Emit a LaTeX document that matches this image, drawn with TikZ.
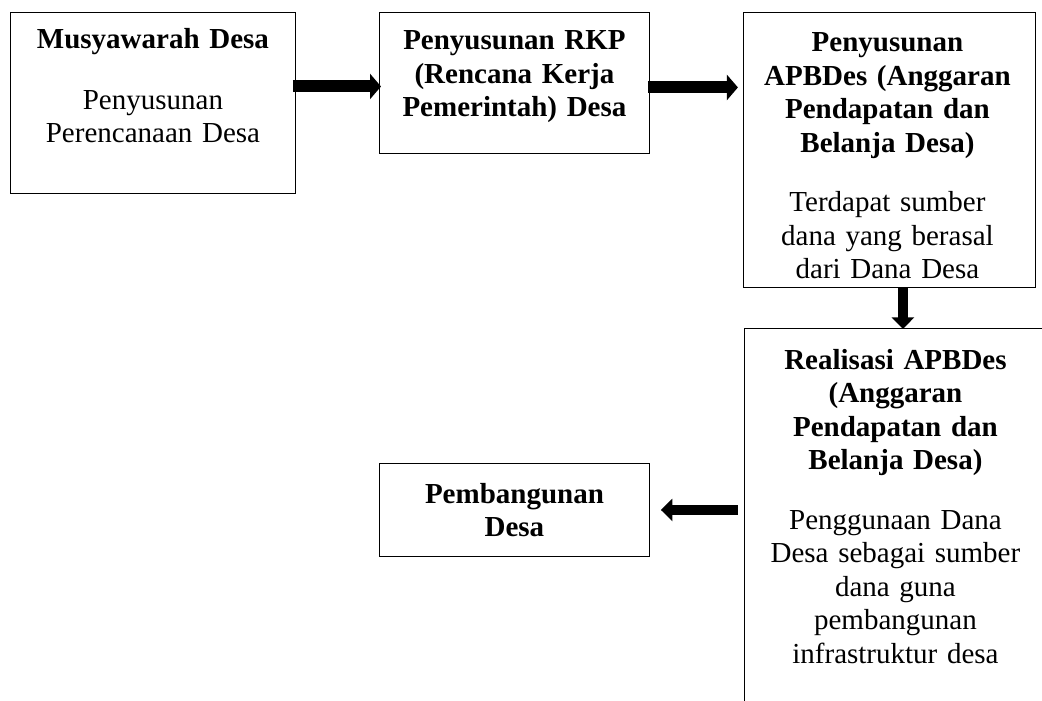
\documentclass[tikz,border=0pt]{standalone}
\usepackage{fontspec}
\setmainfont{Liberation Serif}
\usetikzlibrary{arrows.meta,positioning}
\begin{document}
\begin{tikzpicture}[x=1pt,y=-1pt,
  kotak/.style={draw=black,line width=0.9pt,inner sep=0pt,anchor=north west},
  isi/.style={align=center,text width=290pt,inner sep=0pt,anchor=base,font=\fontsize{29}{33.5}\selectfont},
  panah/.style={line width=12pt,-{Triangle[width=25pt,length=11pt]}},
  panahkecil/.style={line width=10.5pt,-{Triangle[width=22pt,length=11.5pt]}}]
\useasboundingbox (0,0) rectangle (1042,701);
\clip (0,0) rectangle (1042,701);
\node[kotak,minimum width=285pt,minimum height=181pt] (musy) at (10,12) {};
\node[kotak,minimum width=270pt,minimum height=141pt] (rkp) at (379,12) {};
\node[kotak,minimum width=292pt,minimum height=275pt] (apbdes) at (743,12) {};
\node[kotak,minimum width=306pt,minimum height=420pt] (realisasi) at (744,328) {};
\node[kotak,minimum width=270pt,minimum height=93pt,align=center,font=\fontsize{29}{33.5}\selectfont\bfseries] (bangun) at (379,463) {Pembangunan\\Desa};
\node[isi] (tMusy) at ([yshift=-37pt]musy.north) {{\bfseries Musyawarah Desa}\\[27pt]Penyusunan\\Perencanaan Desa};
\node[isi] (tRkp) at ([yshift=-38pt]rkp.north) {\bfseries Penyusunan RKP\\(Rencana Kerja\\Pemerintah) Desa};
\node[isi] (tApbdes) at ([xshift=-2pt,yshift=-40pt]apbdes.north) {{\bfseries Penyusunan\\APBDes (Anggaran\\Pendapatan dan\\Belanja Desa)}\\[26pt]Terdapat sumber\\dana yang berasal\\dari Dana Desa};
\node[isi] (tRealisasi) at ([xshift=-2pt,yshift=-41pt]realisasi.north) {{\bfseries Realisasi APBDes\\(Anggaran\\Pendapatan dan\\Belanja Desa)}\\[26pt]Penggunaan Dana\\Desa sebagai sumber\\dana guna\\pembangunan\\infrastruktur desa};
\draw[panah] (musy.east |- rkp.west) ++(-3,3.5) -- ([xshift=2pt,yshift=-3.5pt]rkp.west);
\draw[panah] ([xshift=-2pt,yshift=-4.5pt]rkp.east) -- ++(90,0);
\draw[panahkecil] ([xshift=13.5pt]apbdes.south) -- ++(0,41);
\draw[panahkecil] ([xshift=88pt]bangun.east) -- ([xshift=11pt]bangun.east);
\end{tikzpicture}
\end{document}
